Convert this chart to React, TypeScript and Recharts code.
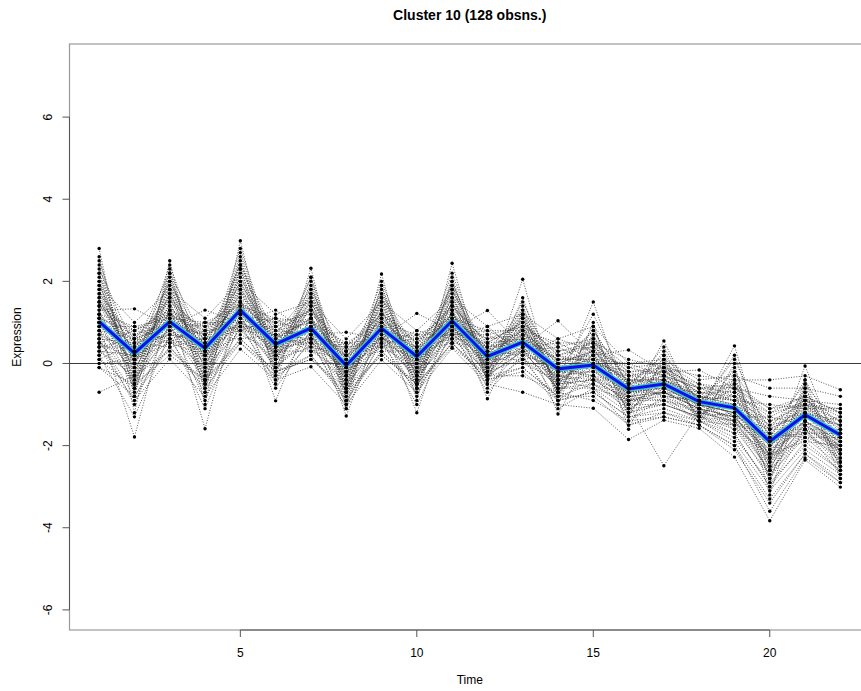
import React from 'react';
import { LineChart, Line, XAxis, YAxis } from 'recharts';

// Time points of the profile plot
const timePoints = [1, 2, 3, 4, 5, 6, 7, 8, 9, 10, 11, 12, 13, 14, 15, 16, 17, 18, 19, 20, 21, 22];

// Cluster centre (mean expression per time point)
const meanProfile = [1.02, 0.25, 1.02, 0.37, 1.30, 0.47, 0.86, -0.05, 0.86, 0.17, 1.04, 0.17, 0.52, -0.13, -0.04, -0.62, -0.50, -0.93, -1.08, -1.90, -1.25, -1.74];

// Member profiles of cluster 10
const obs01 = [2.4, -0.6, 2.2, -0.5, 2.7, 0.0, 2.1, -0.8, 1.9, -0.4, 2.0, -0.2, 1.4, -0.7, 0.6, -1.2, -0.2, -1.3, -0.4, -2.6, -0.9, -2.4];
const obs02 = [0.6, 0.5, 0.7, 0.6, 0.9, 0.7, 0.6, 0.3, 0.6, 0.4, 0.8, 0.4, 0.5, 0.1, 0.1, -0.4, -0.5, -0.8, -1.0, -1.5, -1.3, -1.5];
const obs03 = [1.5, 0.1, 1.6, 0.2, 1.8, 0.4, 1.3, -0.3, 1.2, 0.0, 1.5, 0.2, 0.8, -0.3, 0.2, -0.8, -0.4, -1.0, -1.2, -2.2, -1.1, -1.9];
const obs04 = [0.2, 0.9, 0.5, 1.0, 0.8, 1.1, 0.3, 0.5, 0.4, 0.8, 0.6, 0.9, 0.2, 0.6, 0.3, -0.1, -0.3, -0.6, -0.5, -1.1, -1.0, -1.2];
const obs05 = [2.8, -1.2, 2.5, -1.0, 2.99, -0.5, 2.32, -1.1, 2.18, -0.9, 2.44, -0.5, 2.05, -1.0, 1.0, -1.6, 0.2, -1.5, 0.0, -3.2, -0.5, -2.8];
const obs06 = [1.0, 0.3, 1.1, 0.5, 1.3, 0.5, 0.9, 0.0, 0.9, 0.2, 1.0, 0.2, 0.5, -0.1, -0.1, -0.6, -0.5, -0.9, -1.1, -1.9, -1.2, -1.7];
const obs07 = [-0.1, -0.8, 0.4, -0.6, 0.5, -0.3, 0.2, -0.9, 0.3, -0.6, 0.5, -0.4, -0.2, -0.9, -0.7, -1.3, -1.2, -1.4, -1.8, -2.9, -2.0, -2.6];
const obs08 = [1.8, -0.2, 1.7, 0.0, 2.0, 0.2, 1.5, -0.4, 1.5, -0.2, 1.6, -0.1, 1.0, -0.5, 0.4, -0.9, -0.1, -1.1, -0.6, -2.3, -0.8, -2.0];
const obs09 = [0.5, 0.8, 0.6, 0.8, 0.9, 0.9, 0.5, 0.4, 0.5, 0.6, 0.7, 0.7, 0.3, 0.4, 0.0, -0.2, -0.6, -0.7, -1.3, -1.3, -1.5, -1.3];
const obs10 = [1.2, 0.4, 1.3, 0.6, 1.5, 0.7, 1.0, 0.1, 1.1, 0.3, 1.2, 0.3, 0.7, 0.1, 0.2, -0.5, -0.3, -0.8, -0.9, -1.7, -1.0, -1.6];
const obs11 = [-0.7, -0.3, 0.3, -0.4, 0.6, -0.2, 0.1, -0.6, 0.2, -0.5, 0.5, -0.3, -0.1, -0.8, -0.5, -1.1, -1.0, -1.3, -1.6, -2.7, -1.8, -2.5];
const obs12 = [2.0, -0.4, 1.9, -0.3, 2.3, 0.0, 1.8, -0.6, 1.7, -0.3, 1.9, -0.2, 1.2, -0.6, 0.5, -1.0, 0.0, -1.2, -0.3, -2.5, -0.7, -2.3];
const obs13 = [0.8, 0.6, 0.9, 0.7, 1.1, 0.8, 0.7, 0.2, 0.7, 0.5, 0.9, 0.5, 0.6, 0.2, 0.0, -0.3, -0.4, -0.7, -0.9, -1.4, -1.2, -1.4];
const obs14 = [1.3, 1.33, 0.9, 1.3, 1.0, 1.3, 0.7, 0.76, 0.6, 1.22, 0.8, 1.29, 0.4, 1.04, 0.2, 0.33, -0.2, -0.16, -0.6, -0.8, -0.9, -1.0];
const obs15 = [0.9, -1.79, 1.4, -1.59, 1.6, -0.91, 1.2, -1.28, 1.0, -1.2, 1.3, -0.86, 0.9, -1.23, 0.3, -1.4, -0.8, -1.4, -1.7, -3.0, -1.6, -2.7];
const obs16 = [1.6, 0.2, 1.4, 0.3, 1.7, 0.6, 1.1, -0.1, 1.0, 0.1, 1.3, 0.1, 0.6, -0.2, 0.0, -0.7, -0.6, -1.0, -1.2, -2.0, -1.3, -1.8];
const obs17 = [0.3, -0.3, 0.6, -0.1, 0.8, 0.1, 0.4, -0.5, 0.5, -0.3, 0.6, -0.2, 0.1, -0.5, -0.4, -0.9, -0.9, -1.2, -1.4, -2.4, -1.6, -2.1];
const obs18 = [2.2, 0.0, 2.0, 0.1, 2.4, 0.3, 1.7, -0.3, 1.6, -0.1, 1.8, 0.0, 1.1, -0.4, 0.7, -0.8, 0.3, -1.1, 0.2, -2.1, -0.6, -2.2];
const obs19 = [1.1, 0.7, 1.0, 0.9, 1.2, 1.0, 0.8, 0.3, 0.8, 0.6, 1.0, 0.6, 0.7, 0.3, 0.4, -0.2, -0.2, -0.5, -0.8, -1.2, -1.0, -1.1];
const obs20 = [0.7, -0.5, 0.8, -0.4, 1.0, -0.1, 0.6, -0.7, 0.6, -0.4, 0.8, -0.3, 0.3, -0.6, -0.5, -1.0, -1.0, -1.3, -1.5, -2.6, -1.7, -2.3];
const obs21 = [1.4, 0.5, 1.2, 0.7, 1.4, 0.8, 1.0, 0.2, 1.0, 0.4, 1.1, 0.4, 0.8, 0.0, 0.3, -0.4, -0.4, -0.8, -1.0, -1.6, -1.2, -1.5];
const obs22 = [0.0, 0.1, 0.5, 0.2, 0.7, 0.3, 0.3, -0.2, 0.4, -0.1, 0.6, 0.0, 0.0, -0.4, -0.6, -0.9, -0.7, -1.1, -1.6, -2.2, -1.9, -2.0];
const obs23 = [2.6, -0.8, 2.3, -0.7, 2.6, -0.3, 2.0, -0.9, 1.9, -0.6, 2.1, -0.4, 1.6, -0.8, 0.9, -1.3, 0.1, -1.4, -0.1, -2.9, -0.4, -2.6];
const obs24 = [1.0, 0.0, 1.2, 0.2, 1.4, 0.4, 0.9, -0.2, 0.9, 0.0, 1.1, 0.1, 0.5, -0.3, -0.2, -0.7, -0.6, -1.0, -1.2, -2.1, -1.4, -1.9];
const obs25 = [0.4, 0.4, 0.7, 0.5, 1.0, 0.6, 0.5, 0.0, 0.6, 0.3, 0.8, 0.3, 0.2, -0.1, -0.3, -0.5, -0.8, -0.9, -1.4, -1.8, -1.7, -1.7];
const obs26 = [1.7, 0.6, 1.5, 0.8, 1.9, 0.9, 1.3, 0.4, 1.3, 0.5, 1.4, 0.5, 1.0, 0.2, 0.5, -0.3, -0.1, -0.6, -0.7, -1.3, -0.9, -1.3];
const obs27 = [0.6, -1.0, 1.0, -0.9, 1.2, -0.5, 0.8, -1.0, 0.8, -0.8, 1.0, -0.6, 0.4, -0.9, -0.3, -1.2, -0.9, -1.4, -1.5, -2.8, -1.6, -2.5];
const obs28 = [1.9, 0.2, 1.8, 0.4, 2.1, 0.5, 1.5, -0.1, 1.4, 0.1, 1.6, 0.2, 1.1, -0.2, 0.6, -0.6, 0.0, -0.9, -0.5, -1.9, -0.8, -1.8];
const obs29 = [1.2, -0.1, 1.1, 0.0, 1.3, 0.2, 0.9, -0.4, 0.9, -0.2, 1.0, -0.1, 0.6, -0.4, 0.1, -0.8, -0.7, -1.1, -1.3, -2.3, -1.4, -2.0];
const obs30 = [0.9, 0.9, 0.8, 1.0, 1.0, 1.1, 0.6, 0.5, 0.6, 0.7, 0.7, 0.8, 0.4, 0.5, 0.1, 0.0, -0.3, -0.6, -0.9, -1.0, -1.1, -1.1];
const obs31 = [2.1, -0.3, 2.1, -0.2, 2.5, 0.1, 1.9, -0.5, 1.8, -0.4, 2.0, -0.2, 1.3, -0.6, 1.5, -1.0, 0.55, -1.2, 0.43, -2.4, -0.06, -2.2];
const obs32 = [0.1, -0.6, 0.4, -0.5, 0.6, -0.2, 0.2, -0.8, 0.3, -0.5, 0.5, -0.4, -0.1, -0.8, -0.8, -1.5, -1.3, -1.5, -2.1, -3.4, -2.2, -2.9];
const obs33 = [1.5, 0.3, 1.4, 0.4, 1.6, 0.5, 1.1, 0.0, 1.1, 0.2, 1.2, 0.2, 0.7, -0.1, 0.1, -0.6, -0.4, -0.9, -1.0, -1.8, -1.2, -1.7];
const obs34 = [0.8, 0.1, 1.0, 0.3, 1.2, 0.4, 0.8, -0.1, 0.8, 0.1, 0.9, 0.1, 0.4, -0.2, -0.1, -0.7, -0.5, -1.0, -1.1, -2.0, -1.3, -1.8];
const obs35 = [1.3, -0.5, 1.5, -0.4, 1.8, -0.1, 1.4, -0.6, 1.3, -0.5, 1.5, -0.3, 0.9, -0.7, 0.0, -1.1, -0.6, -1.3, -1.2, -2.7, -1.4, -2.4];
const obs36 = [0.4, 0.6, 0.5, 0.6, 0.8, 0.7, 0.4, 0.2, 0.4, 0.4, 0.6, 0.5, 0.1, 0.2, -0.2, -0.3, -0.7, -0.8, -1.3, -1.6, -1.6, -1.6];
const obs37 = [1.1, 0.2, 1.0, 0.3, 1.2, 0.4, 0.8, -0.1, 0.8, 0.1, 0.9, 0.1, 0.5, -0.2, -0.3, -1.0, -2.49, -1.2, -1.3, -2.2, -1.5, -2.0];
const obs38 = [2.3, 0.4, 2.2, 0.5, 2.4, 0.7, 1.8, 0.1, 1.7, 0.3, 1.9, 0.3, 1.3, 0.0, 0.8, -0.5, 0.2, -0.8, -0.2, -1.6, -0.5, -1.6];
const obs39 = [0.2, -1.3, 0.7, -1.1, 1.0, -0.6, 0.6, -1.1, 0.6, -1.0, 0.8, -0.7, 0.2, -1.1, -0.6, -1.5, -1.2, -1.5, -2.0, -3.6, -2.3, -2.9];
const obs40 = [1.0, 0.6, 1.0, 0.7, 1.2, 0.7, 0.8, 0.2, 0.8, 0.4, 1.0, 0.4, 0.6, 0.1, 0.1, -0.4, -0.4, -0.8, -0.9, -1.6, -1.1, -1.5];
const obs41 = [1.6, -0.2, 1.6, -0.1, 1.9, 0.1, 1.4, -0.5, 1.3, -0.3, 1.5, -0.2, 0.9, -0.5, 0.2, -1.0, -0.5, -1.2, -1.0, -2.4, -1.2, -2.2];
const obs42 = [0.7, 0.3, 0.8, 0.4, 1.0, 0.5, 0.6, 0.0, 0.6, 0.2, 0.7, 0.2, 0.3, -0.2, -0.2, -0.6, -0.6, -1.0, -1.2, -2.0, -1.4, -1.9];
const obs43 = [1.9, 1.0, 1.8, 1.1, 2.0, 1.2, 1.5, 0.6, 1.5, 0.8, 1.6, 0.9, 1.2, 0.6, 0.9, 0.0, 0.1, -0.4, -0.3, -0.6, -0.6, -0.8];
const obs44 = [1.0, -0.3, 1.1, -0.2, 1.3, 0.1, 0.9, -0.4, 0.8, -0.3, 1.0, -0.2, 0.4, -0.5, -0.4, -0.9, -0.8, -1.2, -1.4, -2.5, -1.5, -2.2];
const obs45 = [2.5, -0.1, 2.4, 0.0, 2.8, 0.2, 2.1, -0.3, 2.0, -0.2, 2.2, -0.1, 1.5, -0.3, 1.2, -0.6, 0.4, -1.0, 0.1, -1.8, -0.4, -1.9];
const obs46 = [0.3, 0.2, 0.6, 0.3, 0.9, 0.4, 0.5, -0.1, 0.5, 0.1, 0.7, 0.1, 0.1, -0.3, -0.5, -0.8, -0.9, -1.1, -1.5, -2.3, -1.8, -2.1];
const obs47 = [1.4, 0.8, 1.3, 0.9, 1.6, 1.0, 1.2, 0.4, 1.2, 0.6, 1.3, 0.7, 0.9, 0.4, 0.6, -0.1, 0.0, -0.5, -0.6, -1.1, -0.8, -1.2];
const obs48 = [0.5, -0.4, 0.9, -0.3, 1.1, -0.1, 0.7, -0.6, 0.7, -0.4, 0.9, -0.3, 0.3, -0.6, -0.6, -1.2, -1.0, -1.3, -1.7, -3.0, -1.9, -2.6];
const obs49 = [0.4, -0.9, 0.11, -0.8, 0.35, -0.4, -0.08, -1.0, 0.09, -0.7, 0.37, -0.5, -0.7, -1.0, -1.09, -1.85, -1.38, -1.58, -2.28, -3.83, -2.35, -3.01];
const obs50 = [1.2, 0.9, 1.1, 1.0, 1.4, 1.1, 1.0, 0.5, 1.0, 0.7, 1.1, 0.8, 0.8, 0.5, 0.5, 0.1, -0.1, -0.3, -0.4, -0.4, -0.3, -0.64];
const obs51 = [1.7, 0.0, 1.3, 0.1, 1.5, 0.3, 1.0, -0.3, 1.0, -0.1, 1.2, 0.0, 0.7, -0.4, 0.0, -0.9, -0.7, -1.1, -1.3, -2.2, -1.4, -2.1];
const obs52 = [0.9, 0.4, 1.2, 0.6, 1.5, 0.6, 1.1, 0.1, 1.0, 0.3, 1.2, 0.3, 0.8, 0.0, 0.3, -0.5, -0.2, -0.7, -0.8, -1.5, -0.9, -1.4];
const obs53 = [2.0, -0.7, 1.8, -0.6, 2.2, -0.2, 1.6, -0.7, 1.5, -0.6, 1.7, -0.4, 1.1, -0.8, 0.4, -1.2, -0.3, -1.3, -0.7, -2.8, -1.0, -2.5];
const obs54 = [0.1, 0.5, 0.4, 0.6, 0.6, 0.7, 0.3, 0.1, 0.3, 0.3, 0.5, 0.4, 0.0, 0.0, -0.4, -0.4, -0.8, -0.9, -1.5, -1.7, -1.8, -1.8];
const obs55 = [1.4, 0.1, 1.7, 0.3, 2.0, 0.4, 1.4, -0.2, 1.3, 0.0, 1.4, 0.1, 0.9, -0.2, 0.3, -0.6, -0.3, -0.9, -0.8, -1.9, -1.0, -1.8];
const obs56 = [0.6, -0.8, 0.6, -0.7, 0.9, -0.4, 0.5, -0.9, 0.5, -0.7, 0.7, -0.5, 0.1, -0.9, -0.7, -1.3, -1.1, -1.4, -1.9, -3.1, -2.1, -2.7];
const obs57 = [1.1, 0.8, 1.2, 0.8, 1.5, 0.9, 1.1, 0.3, 1.1, 0.5, 1.2, 0.6, 0.9, 0.3, 0.5, -0.2, -0.1, -0.6, -0.6, -1.2, -0.8, -1.2];
const obs58 = [2.2, -0.5, 2.0, -0.4, 2.3, -0.1, 1.7, -0.6, 1.6, -0.5, 1.8, -0.3, 1.2, -0.7, 0.7, -1.1, -0.1, -1.3, -0.5, -2.6, -0.8, -2.4];
const obs59 = [0.8, -0.2, 0.9, 0.0, 1.1, 0.2, 0.7, -0.3, 0.7, -0.2, 0.9, -0.1, 0.4, -0.4, -0.3, -0.8, -0.7, -1.1, -1.3, -2.3, -1.5, -2.1];
const obs60 = [1.5, 0.6, 1.6, 0.7, 1.8, 0.8, 1.3, 0.3, 1.2, 0.5, 1.4, 0.5, 1.0, 0.2, 0.4, -0.3, -0.2, -0.7, -0.7, -1.4, -1.0, -1.4];
const obs61 = [-0.1, -0.5, 0.2, -0.4, 0.5, -0.2, 0.1, -0.7, 0.2, -0.5, 0.4, -0.3, -0.3, -0.7, -0.9, -1.4, -1.3, -1.5, -2.0, -3.3, -2.2, -2.8];
const obs62 = [1.8, 0.3, 2.0, 0.4, 2.3, 0.6, 1.6, 0.0, 1.6, 0.2, 1.8, 0.2, 1.2, -0.1, 0.8, -0.5, 0.1, -0.9, -0.4, -1.8, -0.7, -1.7];
const obs63 = [1.0, -0.6, 1.3, -0.5, 1.5, -0.2, 1.1, -0.7, 1.1, -0.6, 1.3, -0.4, 0.7, -0.7, -0.1, -1.1, -0.7, -1.3, -1.4, -2.6, -1.6, -2.4];
const obs64 = [0.5, 0.1, 0.8, 0.2, 1.0, 0.3, 0.6, -0.2, 0.6, 0.0, 0.8, 0.0, 0.3, -0.3, -0.4, -0.7, -0.7, -1.0, -1.4, -2.1, -1.6, -2.0];

const observations = [
  obs01, obs02, obs03, obs04, obs05, obs06, obs07, obs08, obs09, obs10,
  obs11, obs12, obs13, obs14, obs15, obs16, obs17, obs18, obs19, obs20,
  obs21, obs22, obs23, obs24, obs25, obs26, obs27, obs28, obs29, obs30,
  obs31, obs32, obs33, obs34, obs35, obs36, obs37, obs38, obs39, obs40,
  obs41, obs42, obs43, obs44, obs45, obs46, obs47, obs48, obs49, obs50,
  obs51, obs52, obs53, obs54, obs55, obs56, obs57, obs58, obs59, obs60,
  obs61, obs62, obs63, obs64,
];

const xTicks = [5, 10, 15, 20];
const yTicks = [-6, -4, -2, 0, 2, 4, 6];

const title = 'Cluster 10 (128 obsns.)';
const xLabel = 'Time';
const yLabel = 'Expression';

// Plot region limits (R-style 4% padding around the data range)
const X_DOMAIN: [number, number] = [0.16, 22.84];
const Y_DOMAIN: [number, number] = [-6.49, 7.78];

// Chart geometry
const CHART_W = 880;
const CHART_H = 691;
const MARGIN = { top: 44, right: 10, bottom: 0, left: 0 };
const Y_AXIS_W = 69.5;
const X_AXIS_H = 61;
const PLOT_LEFT = MARGIN.left + Y_AXIS_W;
const PLOT_RIGHT = CHART_W - MARGIN.right;
const PLOT_TOP = MARGIN.top;
const PLOT_BOTTOM = CHART_H - MARGIN.bottom - X_AXIS_H;
const TICK_LEN = 7;

// Same linear mapping as the chart's axes, for the frame, ticks and labels
const xPx = (v: number) =>
  PLOT_LEFT + ((v - X_DOMAIN[0]) / (X_DOMAIN[1] - X_DOMAIN[0])) * (PLOT_RIGHT - PLOT_LEFT);
const yPx = (v: number) =>
  PLOT_BOTTOM - ((v - Y_DOMAIN[0]) / (Y_DOMAIN[1] - Y_DOMAIN[0])) * (PLOT_BOTTOM - PLOT_TOP);

const FONT = '"Liberation Sans", Arial, Helvetica, sans-serif';

const chartData = timePoints.map((t, i) => {
  const row: Record<string, number> = { t, mean: meanProfile[i], meanHalo: meanProfile[i] };
  observations.forEach((o, k) => {
    row['o' + k] = o[i];
  });
  return row;
});

export default function App() {
  const midX = (PLOT_LEFT + PLOT_RIGHT) / 2;
  const midY = (PLOT_TOP + PLOT_BOTTOM) / 2;
  const yLabelX = PLOT_LEFT - 17.5;
  return (
    <div
      style={{
        position: 'absolute',
        left: 0,
        top: 0,
        width: 861,
        height: 691,
        overflow: 'hidden',
        background: '#fff',
      }}
    >
      {/* frame, axes and zero line beneath the profiles */}
      <svg
        width={CHART_W}
        height={CHART_H}
        style={{ position: 'absolute', left: 0, top: 0 }}
      >
        <rect
          x={PLOT_LEFT}
          y={PLOT_TOP}
          width={PLOT_RIGHT - PLOT_LEFT}
          height={PLOT_BOTTOM - PLOT_TOP}
          fill="none"
          stroke="#9a9a9a"
          strokeWidth={1.2}
        />
        <line
          x1={xPx(xTicks[0])}
          x2={xPx(xTicks[xTicks.length - 1])}
          y1={PLOT_BOTTOM}
          y2={PLOT_BOTTOM}
          stroke="#555"
          strokeWidth={1}
        />
        <line
          x1={PLOT_LEFT}
          x2={PLOT_LEFT}
          y1={yPx(yTicks[0])}
          y2={yPx(yTicks[yTicks.length - 1])}
          stroke="#555"
          strokeWidth={1}
        />
        {xTicks.map((v) => (
          <g key={'xt' + v}>
            <line x1={xPx(v)} x2={xPx(v)} y1={PLOT_BOTTOM} y2={PLOT_BOTTOM + TICK_LEN} stroke="#555" strokeWidth={1} />
            <text x={xPx(v)} y={PLOT_BOTTOM + 27} textAnchor="middle" fontSize={12} fontFamily={FONT} fill="#000">
              {v}
            </text>
          </g>
        ))}
        {yTicks.map((v) => (
          <g key={'yt' + v}>
            <line x1={PLOT_LEFT - TICK_LEN} x2={PLOT_LEFT} y1={yPx(v)} y2={yPx(v)} stroke="#555" strokeWidth={1} />
            <text
              x={yLabelX}
              y={yPx(v)}
              transform={`rotate(-90, ${yLabelX}, ${yPx(v)})`}
              textAnchor="middle"
              fontSize={12}
              fontFamily={FONT}
              fill="#000"
            >
              {v}
            </text>
          </g>
        ))}
        <line x1={PLOT_LEFT} x2={PLOT_RIGHT} y1={yPx(0)} y2={yPx(0)} stroke="#3a3a3a" strokeWidth={1} />
        <text x={midX} y={20} textAnchor="middle" fontSize={14} fontWeight="bold" fontFamily={FONT} fill="#000">
          {title}
        </text>
        <text x={midX} y={684} textAnchor="middle" fontSize={12} fontFamily={FONT} fill="#000">
          {xLabel}
        </text>
        <text
          x={21}
          y={midY}
          transform={`rotate(-90, 21, ${midY})`}
          textAnchor="middle"
          fontSize={12}
          fontFamily={FONT}
          fill="#000"
        >
          {yLabel}
        </text>
      </svg>
      <div style={{ position: 'absolute', left: 0, top: 0 }}>
        <LineChart width={CHART_W} height={CHART_H} data={chartData} margin={MARGIN}>
          <XAxis
            dataKey="t"
            type="number"
            domain={X_DOMAIN}
            ticks={xTicks}
            allowDataOverflow
            height={X_AXIS_H}
            axisLine={false}
            tickLine={false}
            tick={false}
          />
          <YAxis
            type="number"
            domain={Y_DOMAIN}
            ticks={yTicks}
            allowDataOverflow
            width={Y_AXIS_W}
            axisLine={false}
            tickLine={false}
            tick={false}
          />
          {observations.map((_, k) => (
            <Line
              key={'o' + k}
              dataKey={'o' + k}
              type="linear"
              stroke="#3a3a3a"
              strokeWidth={0.85}
              strokeDasharray="1 1.6"
              dot={{ r: 1.7, fill: '#000', stroke: 'none' }}
              activeDot={false}
              isAnimationActive={false}
            />
          ))}
          <Line
            dataKey="meanHalo"
            type="linear"
            stroke="#3cc8c8"
            strokeWidth={5.5}
            dot={false}
            activeDot={false}
            isAnimationActive={false}
          />
          <Line
            dataKey="mean"
            type="linear"
            stroke="#1010ee"
            strokeWidth={3}
            dot={false}
            activeDot={false}
            isAnimationActive={false}
          />
        </LineChart>
      </div>
    </div>
  );
}
